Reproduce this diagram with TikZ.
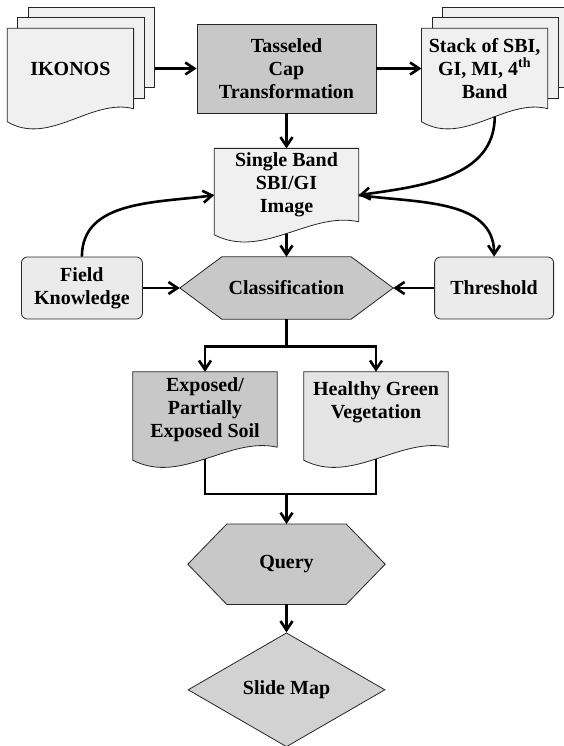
\documentclass[tikz,border=0pt]{standalone}
\usepackage{fontspec}
\setmainfont{Liberation Serif}
\usetikzlibrary{positioning,calc,backgrounds,shapes.geometric,arrows.meta}
\definecolor{darkfill}{HTML}{C8C8C8}
\definecolor{mapfill}{HTML}{D2D2D2}
\definecolor{docfill}{HTML}{F0F0F0}
\definecolor{boxfill}{HTML}{EBEBEB}
\definecolor{vegfill}{HTML}{E4E4E4}
\tikzset{
  every node/.style={font=\bfseries\fontsize{20}{23}\selectfont,align=center,inner sep=0pt},
  outline/.style={draw=black!85,line width=.8pt},
  proc node/.style={rectangle,outline,fill=darkfill},
  soft node/.style={rectangle,rounded corners=6pt,outline,fill=boxfill,minimum height=62pt},
  shape node/.style={rectangle},
  flow/.style={line width=2.6pt,line join=miter,-{Straight Barb[length=9pt,width=12pt]}},
  link/.style={line width=2.6pt,line join=miter},
}
% document with a wavy bottom, drawn round node #1
\newcommand{\docshape}[2]{%
  \path[outline,fill=#2] (#1.north west) -- (#1.north east) -- (#1.south east)
    .. controls ($(#1.south west)!2/3!(#1.south east)+(0,-11)$) and ($(#1.south west)!1/3!(#1.south east)+(0,38)$) .. ([yshift=-13pt]#1.south west)
    coordinate[pos=.5] (#1-b) coordinate[pos=.42] (#1-br) -- cycle;
}
% stack of three documents
\newcommand{\docstack}[2]{%
  \foreach \d in {21,10.5}
    \path[outline,fill=#2] ([xshift=\d pt,yshift=\d pt]#1.north west) rectangle ([xshift=\d pt,yshift=\d pt]#1.south east);
  \docshape{#1}{#2}
}
% hexagon with pointed ends, drawn round node #1
\newcommand{\hexshape}[3]{%
  \path[outline,fill=#3] (#1.north west) -- (#1.north east) -- ([xshift=#2]#1.east) coordinate (#1-r)
    -- (#1.south east) -- (#1.south west) -- ([xshift=-#2]#1.west) coordinate (#1-l) -- cycle;
}

\begin{document}
\begin{tikzpicture}[x=1pt,y=-1pt]
  \useasboundingbox (0,0) rectangle (564,746);

  \node[proc node,minimum width=179pt,minimum height=89pt] (tc) at (286.5,68.5) {Tasseled\\Cap\\Transformation};
  \node[shape node,minimum width=126pt,minimum height=80pt] (ikonos) [left=63pt of tc] {IKONOS};
  \node[shape node,minimum width=126pt,minimum height=80pt] (stack) [right=45pt of tc] {Stack of SBI,\\GI, MI, 4\textsuperscript{th}\\Band};
  \node[shape node,minimum width=144pt,minimum height=73pt] (sb) [below=35pt of tc] {Single Band\\SBI/GI\\Image};
  \node[shape node,minimum width=129pt,minimum height=62pt] (cls) [below=35pt of sb] {Classification};
  \node[soft node,minimum width=121pt] (fk) [left=79pt of cls] {Field\\Knowledge};
  \node[soft node,minimum width=119pt] (thr) [right=83pt of cls] {Threshold};
  \coordinate[below=27pt of cls] (split);
  \node[shape node,minimum width=144pt,minimum height=75pt] (exp) at (205,409.5) {Exposed/\\Partially\\Exposed Soil};
  \node[shape node,minimum width=144pt,minimum height=75pt] (hgv) at (376,409.5) {\parbox[c][56pt][t]{140pt}{\centering Healthy Green\\Vegetation}};
  \coordinate (merge) at (286.5,494);
  \node[shape node,minimum width=119pt,minimum height=80pt] (qry) [below=30pt of merge] {Query};
  \node[diamond,outline,fill=mapfill,aspect=1.7,minimum width=197pt,minimum height=114pt] (map) [below=28pt of qry] {Slide Map};

  \begin{scope}[on background layer]
    \docstack{ikonos}{docfill}
    \docstack{stack}{docfill}
    \docshape{sb}{docfill}
    \docshape{exp}{darkfill}
    \docshape{hgv}{vegfill}
    \hexshape{cls}{42pt}{darkfill}
    \hexshape{qry}{39pt}{darkfill}
  \end{scope}

  \draw[flow] ([xshift=21pt]ikonos.east) -- (tc.west);
  \draw[flow] (tc.east) -- (stack.west);
  \draw[flow] (tc.south) -- (sb.north);
  \draw[flow] (stack-br) to[out=-90,in=8] ([yshift=-10pt]sb.east);
  \draw[flow] ([yshift=-10pt]sb.east) to[out=-8,in=90] (thr.north);
  \draw[flow] (fk.north) to[out=90,in=188] ([yshift=-10pt]sb.west);
  \draw[flow] (sb-b) -- (cls.north);
  \draw[flow] (fk.east) -- (cls-l);
  \draw[flow] (thr.west) -- (cls-r);
  \draw[link] (cls.south) -- (split);
  \draw[flow] (split) -| (exp.north);
  \draw[flow] (split) -| (hgv.north);
  \draw[link] (exp-b) |- (merge) -| (hgv-b);
  \draw[flow] (merge) -- (qry.north);
  \draw[flow] (qry.south) -- (map.north);
\end{tikzpicture}
\end{document}
